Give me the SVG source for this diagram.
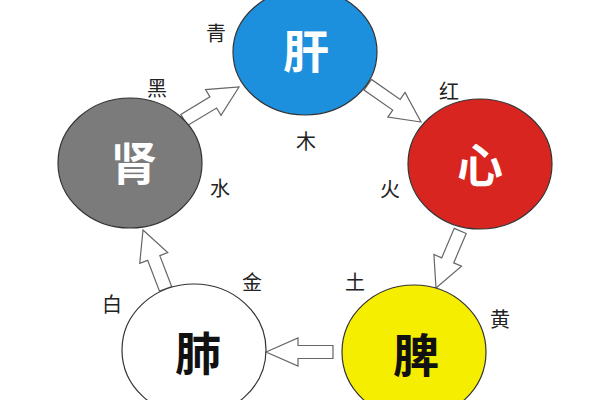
<svg xmlns="http://www.w3.org/2000/svg" width="600" height="400" viewBox="0 0 600 400">
<style>
.node{stroke:#333;stroke-width:1.2}
.big{font-family:"Noto Sans CJK SC","Noto Sans",sans-serif;font-size:46px;font-weight:700;text-anchor:middle;dominant-baseline:central}
.lbl{font-family:"Noto Sans CJK SC","Noto Sans",sans-serif;font-size:20px;fill:#222;text-anchor:middle;dominant-baseline:central}
.arr{fill:#fff;stroke:#666;stroke-width:1.2;stroke-linejoin:miter}
</style>
<rect width="600" height="400" fill="#fff"/>
<g id="connectors">
<polygon class="arr" transform="translate(239,87) rotate(-31)" points="0,0 -30,15 -30,6.5 -64,6.5 -64,-6.5 -30,-6.5 -30,-15"/>
<polygon class="arr" transform="translate(421,122) rotate(35)" points="0,0 -30,15 -30,6.5 -65,6.5 -65,-6.5 -30,-6.5 -30,-15"/>
<polygon class="arr" transform="translate(436,288) rotate(113)" points="0,0 -30,15 -30,6.5 -62,6.5 -62,-6.5 -30,-6.5 -30,-15"/>
<polygon class="arr" transform="translate(266,352) rotate(180)" points="0,0 -32,14 -32,6.5 -67,6.5 -67,-6.5 -32,-6.5 -32,-14"/>
<polygon class="arr" transform="translate(143,230) rotate(-111)" points="0,0 -30,15 -30,6.5 -63,6.5 -63,-6.5 -30,-6.5 -30,-15"/>
</g>
<g id="liver">
<ellipse class="node" cx="305" cy="52" rx="72" ry="63" fill="#1c8fdd"/>
<text class="big" x="306" y="48" fill="#fff">肝</text>
</g>
<g id="heart">
<ellipse class="node" cx="480" cy="164" rx="72" ry="65" fill="#d9251f"/>
<text class="big" x="480" y="162" fill="#fff">心</text>
</g>
<g id="kidney">
<ellipse class="node" cx="130" cy="163" rx="72" ry="65" fill="#7b7b7b"/>
<text class="big" x="134" y="160" fill="#fff">肾</text>
</g>
<g id="lung">
<ellipse class="node" cx="194" cy="350" rx="72" ry="66" fill="#fff" stroke="#555"/>
<text class="big" x="198" y="350" fill="#111">肺</text>
</g>
<g id="spleen">
<ellipse class="node" cx="414" cy="352" rx="72" ry="67" fill="#f6ee00"/>
<text class="big" x="416" y="352" fill="#111">脾</text>
</g>
<g id="labels">
<text class="lbl" x="216" y="32">青</text>
<text class="lbl" x="306" y="140">木</text>
<text class="lbl" x="157" y="87">黑</text>
<text class="lbl" x="220" y="187">水</text>
<text class="lbl" x="449" y="90">红</text>
<text class="lbl" x="390" y="188">火</text>
<text class="lbl" x="252" y="281">金</text>
<text class="lbl" x="112" y="303">白</text>
<text class="lbl" x="355" y="281">土</text>
<text class="lbl" x="500" y="318">黄</text>
</g>
</svg>
